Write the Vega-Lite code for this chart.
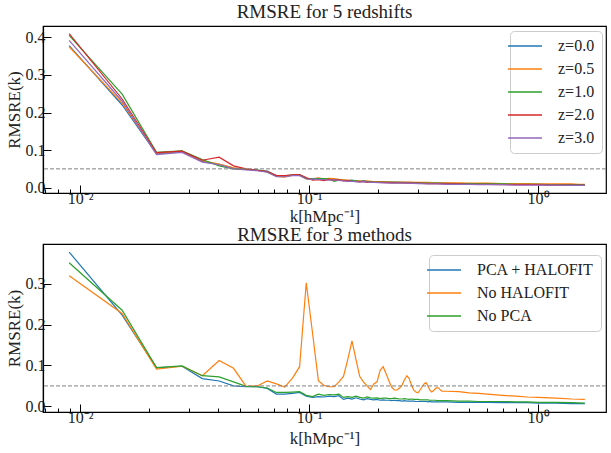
{
  "$schema": "https://vega.github.io/schema/vega-lite/v6.json",
  "padding": {"left": 4, "top": 2, "right": 0, "bottom": 0},
  "spacing": 0,
  "config": {
    "font": "Liberation Serif",
    "view": {"stroke": "black", "strokeWidth": 1.2},
    "axis": {"grid": false, "domainColor": "black", "domainWidth": 1.2, "tickColor": "black", "tickWidth": 1, "labelFontSize": 16, "labelColor": "#222222", "titleFontSize": 17, "titleFontWeight": "normal", "titleColor": "#222222", "labelFont": "Liberation Serif", "titleFont": "Liberation Serif"},
    "title": {"font": "Liberation Serif", "fontSize": 19, "fontWeight": "normal", "color": "#222222", "offset": 0},
    "legend": {"labelFont": "Liberation Serif"}
  },
  "datasets": {
    "top": [
      {"k": 0.00895, "a": 0.378, "b": 0.375, "c": 0.405, "d": 0.410, "e": 0.392},
      {"k": 0.01525, "a": 0.220, "b": 0.225, "c": 0.249, "d": 0.236, "e": 0.230},
      {"k": 0.02155, "a": 0.090, "b": 0.092, "c": 0.094, "d": 0.093, "e": 0.088},
      {"k": 0.02785, "a": 0.096, "b": 0.097, "c": 0.098, "d": 0.097, "e": 0.094},
      {"k": 0.03415, "a": 0.070, "b": 0.072, "c": 0.075, "d": 0.073, "e": 0.068},
      {"k": 0.04045, "a": 0.062, "b": 0.063, "c": 0.058, "d": 0.081, "e": 0.061},
      {"k": 0.04675, "a": 0.052, "b": 0.053, "c": 0.050, "d": 0.058, "e": 0.050},
      {"k": 0.05305, "a": 0.049, "b": 0.049, "c": 0.049, "d": 0.050, "e": 0.047},
      {"k": 0.05935, "a": 0.047, "b": 0.046, "c": 0.047, "d": 0.046, "e": 0.045},
      {"k": 0.06565, "a": 0.044, "b": 0.042, "c": 0.042, "d": 0.043, "e": 0.041},
      {"k": 0.07195, "a": 0.032, "b": 0.030, "c": 0.031, "d": 0.032, "e": 0.029},
      {"k": 0.07825, "a": 0.031, "b": 0.028, "c": 0.031, "d": 0.032, "e": 0.029},
      {"k": 0.08455, "a": 0.033, "b": 0.033, "c": 0.034, "d": 0.034, "e": 0.032},
      {"k": 0.09085, "a": 0.034, "b": 0.033, "c": 0.034, "d": 0.035, "e": 0.032},
      {"k": 0.09715, "a": 0.025, "b": 0.024, "c": 0.024, "d": 0.027, "e": 0.023},
      {"k": 0.10345, "a": 0.024, "b": 0.022, "c": 0.023, "d": 0.020, "e": 0.022},
      {"k": 0.10975, "a": 0.025, "b": 0.026, "c": 0.024, "d": 0.021, "e": 0.022},
      {"k": 0.11605, "a": 0.022, "b": 0.023, "c": 0.024, "d": 0.019, "e": 0.021},
      {"k": 0.12235, "a": 0.024, "b": 0.025, "c": 0.023, "d": 0.022, "e": 0.020},
      {"k": 0.12865, "a": 0.022, "b": 0.024, "c": 0.017, "d": 0.020, "e": 0.021},
      {"k": 0.13495, "a": 0.021, "b": 0.022, "c": 0.020, "d": 0.021, "e": 0.019},
      {"k": 0.14125, "a": 0.020, "b": 0.021, "c": 0.019, "d": 0.018, "e": 0.018},
      {"k": 0.14755, "a": 0.019, "b": 0.020, "c": 0.018, "d": 0.019, "e": 0.017},
      {"k": 0.15385, "a": 0.020, "b": 0.019, "c": 0.019, "d": 0.017, "e": 0.017},
      {"k": 0.16015, "a": 0.018, "b": 0.019, "c": 0.018, "d": 0.016, "e": 0.016},
      {"k": 0.16645, "a": 0.017, "b": 0.018, "c": 0.016, "d": 0.016, "e": 0.015},
      {"k": 0.17275, "a": 0.019, "b": 0.017, "c": 0.017, "d": 0.016, "e": 0.016},
      {"k": 0.17905, "a": 0.017, "b": 0.018, "c": 0.016, "d": 0.014, "e": 0.015},
      {"k": 0.18535, "a": 0.016, "b": 0.017, "c": 0.016, "d": 0.015, "e": 0.014},
      {"k": 0.19165, "a": 0.016, "b": 0.016, "c": 0.015, "d": 0.014, "e": 0.014},
      {"k": 0.21, "a": 0.015, "b": 0.016, "c": 0.015, "d": 0.014, "e": 0.013},
      {"k": 0.23, "a": 0.015, "b": 0.015, "c": 0.014, "d": 0.013, "e": 0.012},
      {"k": 0.25, "a": 0.014, "b": 0.015, "c": 0.014, "d": 0.013, "e": 0.012},
      {"k": 0.27, "a": 0.014, "b": 0.015, "c": 0.013, "d": 0.012, "e": 0.012},
      {"k": 0.30, "a": 0.013, "b": 0.014, "c": 0.013, "d": 0.012, "e": 0.011},
      {"k": 0.33, "a": 0.013, "b": 0.014, "c": 0.012, "d": 0.011, "e": 0.010},
      {"k": 0.36, "a": 0.012, "b": 0.013, "c": 0.012, "d": 0.011, "e": 0.010},
      {"k": 0.40, "a": 0.012, "b": 0.013, "c": 0.011, "d": 0.010, "e": 0.009},
      {"k": 0.45, "a": 0.011, "b": 0.013, "c": 0.011, "d": 0.010, "e": 0.009},
      {"k": 0.50, "a": 0.011, "b": 0.012, "c": 0.011, "d": 0.009, "e": 0.009},
      {"k": 0.55, "a": 0.010, "b": 0.012, "c": 0.010, "d": 0.009, "e": 0.008},
      {"k": 0.60, "a": 0.010, "b": 0.012, "c": 0.010, "d": 0.009, "e": 0.008},
      {"k": 0.70, "a": 0.010, "b": 0.011, "c": 0.010, "d": 0.008, "e": 0.008},
      {"k": 0.80, "a": 0.009, "b": 0.011, "c": 0.009, "d": 0.008, "e": 0.007},
      {"k": 0.90, "a": 0.009, "b": 0.011, "c": 0.009, "d": 0.008, "e": 0.007},
      {"k": 1.0, "a": 0.009, "b": 0.010, "c": 0.009, "d": 0.008, "e": 0.007},
      {"k": 1.1, "a": 0.008, "b": 0.010, "c": 0.008, "d": 0.007, "e": 0.007},
      {"k": 1.2, "a": 0.008, "b": 0.010, "c": 0.008, "d": 0.007, "e": 0.007},
      {"k": 1.3, "a": 0.008, "b": 0.010, "c": 0.008, "d": 0.007, "e": 0.006},
      {"k": 1.4, "a": 0.008, "b": 0.010, "c": 0.008, "d": 0.007, "e": 0.006},
      {"k": 1.5, "a": 0.008, "b": 0.009, "c": 0.008, "d": 0.007, "e": 0.006},
      {"k": 1.6, "a": 0.008, "b": 0.009, "c": 0.008, "d": 0.007, "e": 0.006}
    ],
    "bot": [
      {"k": 0.00895, "PCA + HALOFIT": 0.377, "No HALOFIT": 0.319, "No PCA": 0.351},
      {"k": 0.01525, "PCA + HALOFIT": 0.223, "No HALOFIT": 0.227, "No PCA": 0.235},
      {"k": 0.02155, "PCA + HALOFIT": 0.094, "No HALOFIT": 0.091, "No PCA": 0.095},
      {"k": 0.02785, "PCA + HALOFIT": 0.098, "No HALOFIT": 0.098, "No PCA": 0.099},
      {"k": 0.03415, "PCA + HALOFIT": 0.068, "No HALOFIT": 0.075, "No PCA": 0.075},
      {"k": 0.04045, "PCA + HALOFIT": 0.062, "No HALOFIT": 0.112, "No PCA": 0.072},
      {"k": 0.04675, "PCA + HALOFIT": 0.050, "No HALOFIT": 0.093, "No PCA": 0.060},
      {"k": 0.05305, "PCA + HALOFIT": 0.048, "No HALOFIT": 0.049, "No PCA": 0.049},
      {"k": 0.05935, "PCA + HALOFIT": 0.048, "No HALOFIT": 0.050, "No PCA": 0.048},
      {"k": 0.06565, "PCA + HALOFIT": 0.044, "No HALOFIT": 0.062, "No PCA": 0.045},
      {"k": 0.07195, "PCA + HALOFIT": 0.030, "No HALOFIT": 0.055, "No PCA": 0.034},
      {"k": 0.07825, "PCA + HALOFIT": 0.030, "No HALOFIT": 0.047, "No PCA": 0.034},
      {"k": 0.08455, "PCA + HALOFIT": 0.032, "No HALOFIT": 0.069, "No PCA": 0.035},
      {"k": 0.09085, "PCA + HALOFIT": 0.034, "No HALOFIT": 0.097, "No PCA": 0.036},
      {"k": 0.09715, "PCA + HALOFIT": 0.025, "No HALOFIT": 0.302, "No PCA": 0.027},
      {"k": 0.10345, "PCA + HALOFIT": 0.022, "No HALOFIT": 0.180, "No PCA": 0.024},
      {"k": 0.10975, "PCA + HALOFIT": 0.024, "No HALOFIT": 0.063, "No PCA": 0.030},
      {"k": 0.11605, "PCA + HALOFIT": 0.023, "No HALOFIT": 0.051, "No PCA": 0.027},
      {"k": 0.12235, "PCA + HALOFIT": 0.025, "No HALOFIT": 0.048, "No PCA": 0.029},
      {"k": 0.12865, "PCA + HALOFIT": 0.024, "No HALOFIT": 0.048, "No PCA": 0.028},
      {"k": 0.13495, "PCA + HALOFIT": 0.026, "No HALOFIT": 0.060, "No PCA": 0.030},
      {"k": 0.14125, "PCA + HALOFIT": 0.017, "No HALOFIT": 0.073, "No PCA": 0.022},
      {"k": 0.14755, "PCA + HALOFIT": 0.020, "No HALOFIT": 0.115, "No PCA": 0.024},
      {"k": 0.15385, "PCA + HALOFIT": 0.018, "No HALOFIT": 0.160, "No PCA": 0.022},
      {"k": 0.16015, "PCA + HALOFIT": 0.021, "No HALOFIT": 0.115, "No PCA": 0.025},
      {"k": 0.16645, "PCA + HALOFIT": 0.018, "No HALOFIT": 0.073, "No PCA": 0.022},
      {"k": 0.17275, "PCA + HALOFIT": 0.016, "No HALOFIT": 0.060, "No PCA": 0.020},
      {"k": 0.17905, "PCA + HALOFIT": 0.019, "No HALOFIT": 0.050, "No PCA": 0.023},
      {"k": 0.18535, "PCA + HALOFIT": 0.017, "No HALOFIT": 0.041, "No PCA": 0.021},
      {"k": 0.19165, "PCA + HALOFIT": 0.016, "No HALOFIT": 0.055, "No PCA": 0.020},
      {"k": 0.19795, "PCA + HALOFIT": 0.017, "No HALOFIT": 0.060, "No PCA": 0.021},
      {"k": 0.20425, "PCA + HALOFIT": 0.015, "No HALOFIT": 0.088, "No PCA": 0.019},
      {"k": 0.21055, "PCA + HALOFIT": 0.016, "No HALOFIT": 0.097, "No PCA": 0.020},
      {"k": 0.21685, "PCA + HALOFIT": 0.015, "No HALOFIT": 0.080, "No PCA": 0.020},
      {"k": 0.22315, "PCA + HALOFIT": 0.015, "No HALOFIT": 0.062, "No PCA": 0.019},
      {"k": 0.22945, "PCA + HALOFIT": 0.014, "No HALOFIT": 0.047, "No PCA": 0.019},
      {"k": 0.23575, "PCA + HALOFIT": 0.015, "No HALOFIT": 0.040, "No PCA": 0.020},
      {"k": 0.24205, "PCA + HALOFIT": 0.014, "No HALOFIT": 0.040, "No PCA": 0.019},
      {"k": 0.24835, "PCA + HALOFIT": 0.014, "No HALOFIT": 0.045, "No PCA": 0.018},
      {"k": 0.25465, "PCA + HALOFIT": 0.013, "No HALOFIT": 0.052, "No PCA": 0.018},
      {"k": 0.26095, "PCA + HALOFIT": 0.014, "No HALOFIT": 0.065, "No PCA": 0.019},
      {"k": 0.26725, "PCA + HALOFIT": 0.013, "No HALOFIT": 0.075, "No PCA": 0.018},
      {"k": 0.27355, "PCA + HALOFIT": 0.013, "No HALOFIT": 0.068, "No PCA": 0.017},
      {"k": 0.27985, "PCA + HALOFIT": 0.013, "No HALOFIT": 0.052, "No PCA": 0.018},
      {"k": 0.28615, "PCA + HALOFIT": 0.013, "No HALOFIT": 0.040, "No PCA": 0.017},
      {"k": 0.29245, "PCA + HALOFIT": 0.012, "No HALOFIT": 0.035, "No PCA": 0.017},
      {"k": 0.29875, "PCA + HALOFIT": 0.012, "No HALOFIT": 0.033, "No PCA": 0.017},
      {"k": 0.30505, "PCA + HALOFIT": 0.012, "No HALOFIT": 0.040, "No PCA": 0.016},
      {"k": 0.31135, "PCA + HALOFIT": 0.012, "No HALOFIT": 0.048, "No PCA": 0.016},
      {"k": 0.31765, "PCA + HALOFIT": 0.012, "No HALOFIT": 0.055, "No PCA": 0.016},
      {"k": 0.32395, "PCA + HALOFIT": 0.012, "No HALOFIT": 0.058, "No PCA": 0.016},
      {"k": 0.33025, "PCA + HALOFIT": 0.011, "No HALOFIT": 0.050, "No PCA": 0.016},
      {"k": 0.33655, "PCA + HALOFIT": 0.012, "No HALOFIT": 0.040, "No PCA": 0.015},
      {"k": 0.34285, "PCA + HALOFIT": 0.011, "No HALOFIT": 0.035, "No PCA": 0.015},
      {"k": 0.34915, "PCA + HALOFIT": 0.011, "No HALOFIT": 0.038, "No PCA": 0.015},
      {"k": 0.35545, "PCA + HALOFIT": 0.011, "No HALOFIT": 0.043, "No PCA": 0.015},
      {"k": 0.36175, "PCA + HALOFIT": 0.011, "No HALOFIT": 0.046, "No PCA": 0.014},
      {"k": 0.36805, "PCA + HALOFIT": 0.011, "No HALOFIT": 0.045, "No PCA": 0.014},
      {"k": 0.37435, "PCA + HALOFIT": 0.011, "No HALOFIT": 0.040, "No PCA": 0.014},
      {"k": 0.38065, "PCA + HALOFIT": 0.011, "No HALOFIT": 0.037, "No PCA": 0.014},
      {"k": 0.40, "PCA + HALOFIT": 0.011, "No HALOFIT": 0.037, "No PCA": 0.014},
      {"k": 0.45, "PCA + HALOFIT": 0.010, "No HALOFIT": 0.036, "No PCA": 0.013},
      {"k": 0.50, "PCA + HALOFIT": 0.010, "No HALOFIT": 0.033, "No PCA": 0.013},
      {"k": 0.55, "PCA + HALOFIT": 0.010, "No HALOFIT": 0.032, "No PCA": 0.012},
      {"k": 0.60, "PCA + HALOFIT": 0.010, "No HALOFIT": 0.030, "No PCA": 0.012},
      {"k": 0.70, "PCA + HALOFIT": 0.009, "No HALOFIT": 0.027, "No PCA": 0.012},
      {"k": 0.80, "PCA + HALOFIT": 0.009, "No HALOFIT": 0.025, "No PCA": 0.011},
      {"k": 0.90, "PCA + HALOFIT": 0.009, "No HALOFIT": 0.023, "No PCA": 0.011},
      {"k": 1.0, "PCA + HALOFIT": 0.008, "No HALOFIT": 0.022, "No PCA": 0.010},
      {"k": 1.2, "PCA + HALOFIT": 0.008, "No HALOFIT": 0.020, "No PCA": 0.010},
      {"k": 1.4, "PCA + HALOFIT": 0.007, "No HALOFIT": 0.018, "No PCA": 0.009},
      {"k": 1.6, "PCA + HALOFIT": 0.007, "No HALOFIT": 0.017, "No PCA": 0.008}
    ]
  },
  "resolve": {"scale": {"color": "independent"}, "legend": {"color": "independent"}},
  "vconcat": [
    {
      "width": 563,
      "height": 167,
      "title": {"text": "RMSRE for 5 redshifts"},
      "layer": [
        {
          "data": {"name": "top"},
          "transform": [{"fold": ["a", "b", "c", "d", "e"], "as": ["s", "v"]}],
          "mark": {"type": "line", "strokeWidth": 1.2},
          "encoding": {
            "x": {"field": "k", "type": "quantitative",
              "scale": {"type": "log", "domain": [0.00688, 1.98], "nice": false},
              "axis": {"title": "k[hMpc⁻¹]", "values": [0.007, 0.008, 0.009, 0.01, 0.02, 0.03, 0.04, 0.05, 0.06, 0.07, 0.08, 0.09, 0.1, 0.2, 0.3, 0.4, 0.5, 0.6, 0.7, 0.8, 0.9, 1],
                "labelExpr": "datum.value == 0.01 ? '10⁻²' : datum.value == 0.1 ? '10⁻¹' : datum.value == 1 ? '10⁰' : ''",
                "tickSize": {"condition": {"test": "datum.value == 0.01 || datum.value == 0.1 || datum.value == 1", "value": -8}, "value": -4},
                "labelPadding": 5, "titlePadding": 2, "labelFlush": false}},
            "y": {"field": "v", "type": "quantitative",
              "scale": {"domain": [-0.0142, 0.4302], "nice": false, "zero": false},
              "axis": {"title": "RMSRE(k)", "values": [0, 0.1, 0.2, 0.3, 0.4], "format": ".1f", "tickSize": -8, "labelPadding": 6, "titlePadding": 2}},
            "color": {"field": "s", "type": "nominal",
              "scale": {"domain": ["a", "b", "c", "d", "e"], "range": ["#1f77b4", "#ff7f0e", "#2ca02c", "#d62728", "#9467bd"]},
              "legend": {"title": null, "orient": "none", "legendX": 467, "legendY": 5,
                "labelExpr": "datum.label == 'a' ? 'z=0.0' : datum.label == 'b' ? 'z=0.5' : datum.label == 'c' ? 'z=1.0' : datum.label == 'd' ? 'z=2.0' : 'z=3.0'",
                "fillColor": "white", "strokeColor": "#cccccc", "cornerRadius": 4, "padding": 7,
                "symbolType": "M-3,0L3,0", "symbolSize": 128, "symbolStrokeWidth": 1.5,
                "labelFontSize": 16, "labelColor": "#222222", "rowPadding": 7, "labelOffset": 25}}
          }
        },
        {
          "data": {"values": [{}]},
          "mark": {"type": "rule", "strokeDash": [4, 2], "color": "#808080", "strokeWidth": 1},
          "encoding": {"y": {"datum": 0.05}}
        }
      ]
    },
    {
      "width": 563,
      "height": 168,
      "title": {"text": "RMSRE for 3 methods", "offset": -1},
      "layer": [
        {
          "data": {"name": "bot"},
          "transform": [{"fold": ["PCA + HALOFIT", "No HALOFIT", "No PCA"], "as": ["s", "v"]}],
          "mark": {"type": "line", "strokeWidth": 1.2},
          "encoding": {
            "x": {"field": "k", "type": "quantitative",
              "scale": {"type": "log", "domain": [0.00688, 1.98], "nice": false},
              "axis": {"title": "k[hMpc⁻¹]", "values": [0.007, 0.008, 0.009, 0.01, 0.02, 0.03, 0.04, 0.05, 0.06, 0.07, 0.08, 0.09, 0.1, 0.2, 0.3, 0.4, 0.5, 0.6, 0.7, 0.8, 0.9, 1],
                "labelExpr": "datum.value == 0.01 ? '10⁻²' : datum.value == 0.1 ? '10⁻¹' : datum.value == 1 ? '10⁰' : ''",
                "tickSize": {"condition": {"test": "datum.value == 0.01 || datum.value == 0.1 || datum.value == 1", "value": -8}, "value": -4},
                "labelPadding": 5, "titlePadding": 5, "labelFlush": false}},
            "y": {"field": "v", "type": "quantitative",
              "scale": {"domain": [-0.0137, 0.3967], "nice": false, "zero": false},
              "axis": {"title": "RMSRE(k)", "values": [0, 0.1, 0.2, 0.3], "format": ".1f", "tickSize": -8, "labelPadding": 6, "titlePadding": 2}},
            "color": {"field": "s", "type": "nominal",
              "scale": {"domain": ["PCA + HALOFIT", "No HALOFIT", "No PCA"], "range": ["#1f77b4", "#ff7f0e", "#2ca02c"]},
              "legend": {"title": null, "orient": "none", "legendX": 386, "legendY": 11,
                "fillColor": "white", "strokeColor": "#cccccc", "cornerRadius": 4, "padding": 7,
                "symbolType": "M-3,0L3,0", "symbolSize": 128, "symbolStrokeWidth": 1.5,
                "labelFontSize": 16, "labelColor": "#222222", "rowPadding": 7, "labelOffset": 25}}
          }
        },
        {
          "data": {"values": [{}]},
          "mark": {"type": "rule", "strokeDash": [4, 2], "color": "#808080", "strokeWidth": 1},
          "encoding": {"y": {"datum": 0.05}}
        }
      ]
    }
  ]
}
